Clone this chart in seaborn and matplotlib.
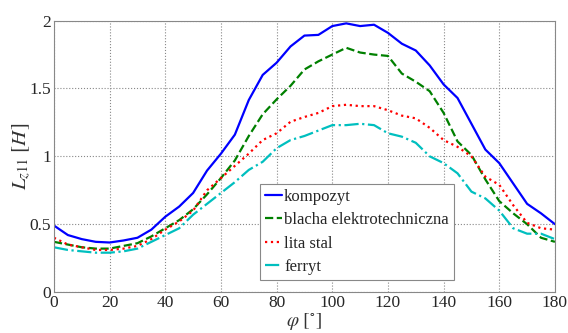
import matplotlib
matplotlib.use('Agg')
import matplotlib.pyplot as plt
import seaborn as sns
import numpy as np

sns.set_style('whitegrid')
plt.rcParams['font.family'] = ['Liberation Serif', 'DejaVu Serif']
plt.rcParams['mathtext.fontset'] = 'stix'

phi = list(range(0, 181, 5))
kompozyt = [0.49, 0.42, 0.39, 0.37, 0.365, 0.38, 0.40, 0.46, 0.555, 0.63,
            0.73, 0.895, 1.02, 1.16, 1.415, 1.60, 1.69, 1.81, 1.89, 1.895,
            1.96, 1.98, 1.96, 1.97, 1.91, 1.83, 1.78, 1.67, 1.53, 1.43,
            1.24, 1.05, 0.95, 0.80, 0.65, 0.58, 0.50]
blacha = [0.37, 0.35, 0.33, 0.32, 0.32, 0.34, 0.36, 0.41, 0.47, 0.53,
          0.61, 0.72, 0.84, 0.97, 1.15, 1.31, 1.42, 1.52, 1.64, 1.70,
          1.75, 1.80, 1.765, 1.75, 1.74, 1.61, 1.55, 1.48, 1.32, 1.11,
          1.01, 0.83, 0.67, 0.58, 0.50, 0.40, 0.37]
lita_stal = [0.40, 0.35, 0.33, 0.31, 0.31, 0.32, 0.34, 0.39, 0.46, 0.52,
             0.60, 0.75, 0.84, 0.93, 1.02, 1.12, 1.17, 1.255, 1.29, 1.32,
             1.37, 1.38, 1.37, 1.37, 1.34, 1.30, 1.28, 1.21, 1.12, 1.07,
             1.00, 0.85, 0.79, 0.64, 0.51, 0.47, 0.46]
ferryt = [0.33, 0.31, 0.30, 0.29, 0.29, 0.30, 0.32, 0.37, 0.42, 0.47,
          0.57, 0.65, 0.73, 0.81, 0.90, 0.96, 1.06, 1.12, 1.15, 1.19,
          1.23, 1.23, 1.24, 1.23, 1.17, 1.145, 1.10, 1.00, 0.95, 0.875,
          0.74, 0.69, 0.60, 0.47, 0.43, 0.43, 0.39]

series = [('kompozyt', kompozyt, '#0000ff', '-'),
          ('blacha elektrotechniczna', blacha, '#008000', '--'),
          ('lita stal', lita_stal, '#ff0000', ':'),
          ('ferryt', ferryt, '#00bfbf', '-.')]

fig = plt.figure(figsize=(5.68, 3.33), dpi=100)
ax = fig.add_axes([0.095, 0.123, 0.882, 0.815])

for name, vals, col, ls in series:
    sns.lineplot(x=phi, y=vals, ax=ax, color=col, linestyle=ls, linewidth=1.6, label=name)

ax.set_xlim(0, 180)
ax.set_ylim(0, 2)
ax.set_xticks(np.arange(0, 181, 20))
ax.set_yticks([0, 0.5, 1, 1.5, 2])
ax.set_yticklabels(['0', '0.5', '1', '1.5', '2'])
ax.grid(True, linestyle=':', color='#888888', linewidth=0.8)
for s in ax.spines.values():
    s.set_color('#888888')
    s.set_linewidth(0.8)
ax.tick_params(direction='in', length=3, color='#888888', labelsize=12.5, pad=2)
ax.set_xlabel(r'$\varphi\ [^{\circ}]$', fontsize=14, labelpad=0, color='#333333')
ax.set_ylabel(r'$L_{z11}\ [H]$', fontsize=15, color='#333333')
ax.yaxis.set_label_coords(-0.042, 0.5)

leg = ax.legend(loc='lower left', bbox_to_anchor=(0.411, 0.044), fontsize=12,
                handlelength=1.0, handletextpad=0.15, borderpad=0.3,
                labelspacing=0.45, fancybox=False, framealpha=1, borderaxespad=0)
leg.get_frame().set_edgecolor('#888888')
leg.get_frame().set_linewidth(0.8)

fig.savefig('out.png', dpi=100)
